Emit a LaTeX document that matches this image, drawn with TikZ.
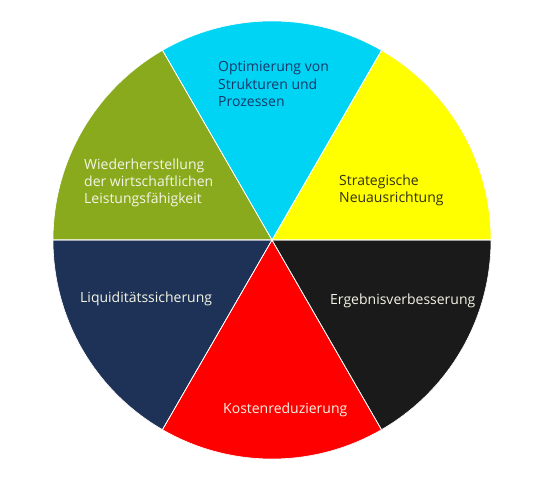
\documentclass[tikz,border=0pt]{standalone}
\usepackage{fontspec}
\setmainfont{Open Sans}
\definecolor{cCyan}{RGB}{0,212,245}
\definecolor{cGreen}{RGB}{138,170,30}
\definecolor{cNavy}{RGB}{30,50,87}
\definecolor{cRed}{RGB}{255,0,0}
\definecolor{cBlack}{RGB}{26,26,26}
\definecolor{cYellow}{RGB}{255,255,0}
\definecolor{tDark}{RGB}{25,55,105}
\definecolor{tOlive}{RGB}{50,50,20}
\definecolor{tLight}{RGB}{245,245,230}
\begin{document}
\begin{tikzpicture}[x=1pt,y=1pt,
  sector/.style={draw=white,line width=0.6pt},
  lbl/.style={font=\fontsize{14}{17.2}\selectfont,align=left,inner sep=0pt,anchor=west}]
\useasboundingbox (0,0) rectangle (543,480);
\coordinate (c) at (272,240);
\def\R{219}
\fill[sector,fill=cYellow] (c) -- ++(0:\R) arc[start angle=0,end angle=60,radius=\R] -- cycle;
\fill[sector,fill=cCyan] (c) -- ++(60:\R) arc[start angle=60,end angle=120,radius=\R] -- cycle;
\fill[sector,fill=cGreen] (c) -- ++(120:\R) arc[start angle=120,end angle=180,radius=\R] -- cycle;
\fill[sector,fill=cNavy] (c) -- ++(180:\R) arc[start angle=180,end angle=240,radius=\R] -- cycle;
\fill[sector,fill=cRed] (c) -- ++(240:\R) arc[start angle=240,end angle=300,radius=\R] -- cycle;
\fill[sector,fill=cBlack] (c) -- ++(300:\R) arc[start angle=300,end angle=360,radius=\R] -- cycle;
\draw[white,line width=0.6pt] (c) -- ++(0:\R) (c) -- ++(60:\R) (c) -- ++(120:\R)
  (c) -- ++(180:\R) (c) -- ++(240:\R) (c) -- ++(300:\R);
\node[lbl,text=tDark] (t1) at (218,396) {Optimierung von\\Strukturen und\\Prozessen};
\node[lbl,text=tLight] (t2) at (84,297) {Wiederherstellung\\der wirtschaftlichen\\Leistungsfähigkeit};
\node[lbl,text=tOlive] (t3) at (339,290) {Strategische\\Neuausrichtung};
\node[lbl,text=tLight] (t4) at (80,181) {Liquiditätssicherung};
\node[lbl,text=tLight] (t5) at (330,179) {Ergebnisverbesserung};
\node[lbl,text=tLight] (t6) at (223,70) {Kostenreduzierung};
\end{tikzpicture}
\end{document}
